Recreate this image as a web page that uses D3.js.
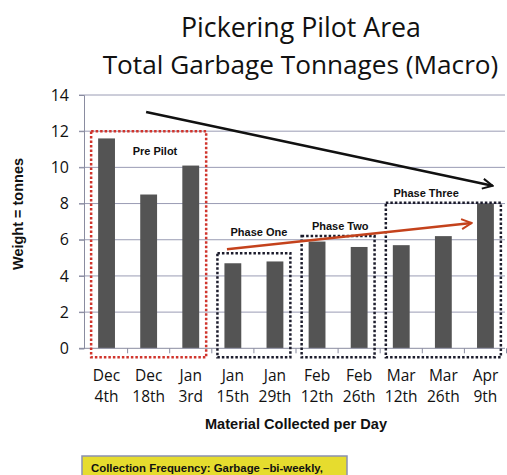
<!DOCTYPE html>
<html>
<head>
<meta charset="utf-8">
<script src="https://cdn.jsdelivr.net/npm/d3@7"></script>
<style>
  body { margin: 0; background: #fff; }
  svg { display: block; }
  text { font-family: "Open Sans", sans-serif; fill: #111; }
  .bold { font-family: "Liberation Sans", Arial, sans-serif; font-weight: bold; }
</style>
</head>
<body>
<div id="chart"></div>
<script>
// chart data
var dates = ["Dec 4th", "Dec 18th", "Jan 3rd", "Jan 15th", "Jan 29th",
             "Feb 12th", "Feb 26th", "Mar 12th", "Mar 26th", "Apr 9th"];
var tonnes = [11.6, 8.5, 10.1, 4.7, 4.8, 5.9, 5.6, 5.7, 6.2, 8.0];
var yTicks = [0, 2, 4, 6, 8, 10, 12, 14];

// phase boxes: first/last bar index, top of box in tonnes
var phases = [
  { name: "Pre Pilot",   first: 0, last: 2, top: 12.0, color: "#d0342c", lx: 1.15, ly: 10.7 },
  { name: "Phase One",   first: 3, last: 4, top: 5.25, color: "#1c1c2c", lx: 3.62, ly: 6.2 },
  { name: "Phase Two",   first: 5, last: 6, top: 6.2,  color: "#1c1c2c", lx: 5.55, ly: 6.55 },
  { name: "Phase Three", first: 7, last: 9, top: 8.05, color: "#1c1c2c", lx: 7.59, ly: 8.37 }
];

// trend arrows (bar index, tonnes)
var arrows = [
  { x1: 0.94, y1: 13.06, x2: 9.17, y2: 8.98, color: "#111111" },
  { x1: 2.86, y1: 5.48,  x2: 8.67, y2: 6.92, color: "#c4421c" }
];

var width = 507, height = 475;

var svg = d3.select("#chart").append("svg")
    .attr("width", width)
    .attr("height", height);

// scales
var x = d3.scaleBand()
    .domain(dates)
    .range([85.5, 506.5])
    .paddingInner(0.6)
    .paddingOuter(0.3);
var xIdx = d3.scaleLinear()
    .domain([-0.5, dates.length - 0.5])
    .range(x.range());
var y = d3.scaleLinear()
    .domain([0, 14])
    .range([348.3, 95]);

// title - font size fitted so each line has the reference width
function fitText(sel, w) {
  var len = sel.node().getComputedTextLength();
  sel.attr("font-size", 24 * w / len);
}
var title = svg.append("g").attr("text-anchor", "middle");
title.append("text")
    .attr("x", 301).attr("y", 36.5)
    .attr("font-size", 24)
    .text("Pickering Pilot Area")
    .call(fitText, 240);
title.append("text")
    .attr("x", 300.5).attr("y", 74)
    .attr("font-size", 24)
    .text("Total Garbage Tonnages (Macro)")
    .call(fitText, 396);

// gridlines
svg.append("g").selectAll("line")
    .data(yTicks.filter(function (d) { return d > 0; }))
    .enter().append("line")
    .attr("x1", 79).attr("x2", 505)
    .attr("y1", function (d) { return y(d); })
    .attr("y2", function (d) { return y(d); })
    .attr("stroke", "#9a9cb4")
    .attr("stroke-width", 1);

// y axis
var yAxis = svg.append("g")
    .attr("transform", "translate(84,0)")
    .call(d3.axisLeft(y).tickValues(yTicks).tickSize(5).tickPadding(10));
yAxis.select(".domain").attr("stroke", "#8a8ca0");
yAxis.selectAll(".tick line").attr("stroke", "#8a8ca0");
yAxis.selectAll(".tick text")
    .attr("font-size", 16)
    .attr("font-family", "Open Sans, sans-serif")
    .attr("fill", "#111");

// bars
svg.append("g").selectAll("rect")
    .data(tonnes)
    .enter().append("rect")
    .attr("x", function (d, i) { return x(dates[i]); })
    .attr("width", x.bandwidth())
    .attr("y", function (d) { return y(d); })
    .attr("height", function (d) { return y(0) - y(d); })
    .attr("fill", "#545454");

// x axis: line with ticks at band edges
var xAxisG = svg.append("g");
xAxisG.append("line")
    .attr("x1", 79).attr("x2", 505)
    .attr("y1", y(0)).attr("y2", y(0))
    .attr("stroke", "#8a8ca0");
xAxisG.selectAll(".xt")
    .data(d3.range(1, dates.length + 1))
    .enter().append("line")
    .attr("x1", function (i) { return xIdx(i - 0.5); })
    .attr("x2", function (i) { return xIdx(i - 0.5); })
    .attr("y1", y(0)).attr("y2", y(0) + 5)
    .attr("stroke", "#8a8ca0");

// x labels (two lines)
var xl = svg.append("g").selectAll("text")
    .data(dates)
    .enter().append("text")
    .attr("text-anchor", "middle")
    .attr("font-size", 15.5)
    .attr("x", function (d) { return x(d) + x.bandwidth() / 2; })
    .attr("y", 381);
xl.append("tspan").text(function (d) { return d.split(" ")[0]; });
xl.append("tspan")
    .attr("x", function (d) { return x(d) + x.bandwidth() / 2; })
    .attr("dy", 21)
    .text(function (d) { return d.split(" ")[1]; });

// axis titles
svg.append("text")
    .attr("class", "bold")
    .attr("text-anchor", "middle")
    .attr("transform", "translate(23,214) rotate(-90)")
    .attr("font-size", 14)
    .attr("textLength", 112).attr("lengthAdjust", "spacingAndGlyphs")
    .text("Weight = tonnes");
svg.append("text")
    .attr("class", "bold")
    .attr("text-anchor", "middle")
    .attr("x", 296).attr("y", 429)
    .attr("font-size", 14)
    .attr("textLength", 182).attr("lengthAdjust", "spacingAndGlyphs")
    .text("Material Collected per Day");

// phase boxes
var pad = 7;
var pg = svg.append("g").selectAll("g")
    .data(phases)
    .enter().append("g");
pg.append("rect")
    .attr("x", function (d) { return x(dates[d.first]) - pad; })
    .attr("y", function (d) { return y(d.top); })
    .attr("width", function (d) { return x(dates[d.last]) + x.bandwidth() + pad - (x(dates[d.first]) - pad); })
    .attr("height", function (d) { return y(-0.5) - y(d.top); })
    .attr("fill", "none")
    .attr("stroke", function (d) { return d.color; })
    .attr("stroke-width", 2.5)
    .attr("stroke-dasharray", "2.5,2");
pg.append("text")
    .attr("class", "bold")
    .attr("text-anchor", "middle")
    .attr("font-size", 11)
    .attr("x", function (d) { return xIdx(d.lx); })
    .attr("y", function (d) { return y(d.ly); })
    .text(function (d) { return d.name; });

// arrows
var defs = svg.append("defs");
arrows.forEach(function (a, i) {
  defs.append("marker")
      .attr("id", "arr" + i)
      .attr("viewBox", "0 0 10 10")
      .attr("refX", 9).attr("refY", 5)
      .attr("markerWidth", 5).attr("markerHeight", 5)
      .attr("orient", "auto")
      .append("path")
      .attr("d", "M1,1 L9,5 L1,9")
      .attr("fill", "none")
      .attr("stroke", a.color)
      .attr("stroke-width", 1.6);
});
svg.append("g").selectAll("line")
    .data(arrows)
    .enter().append("line")
    .attr("x1", function (d) { return xIdx(d.x1); })
    .attr("y1", function (d) { return y(d.y1); })
    .attr("x2", function (d) { return xIdx(d.x2); })
    .attr("y2", function (d) { return y(d.y2); })
    .attr("stroke", function (d) { return d.color; })
    .attr("stroke-width", 2.5)
    .attr("marker-end", function (d, i) { return "url(#arr" + i + ")"; });

// note box at bottom
svg.append("rect")
    .attr("x", 82).attr("y", 456)
    .attr("width", 265).attr("height", 25)
    .attr("fill", "#e6dc2e")
    .attr("stroke", "#8a90b0")
    .attr("stroke-width", 1.5);
svg.append("text")
    .attr("class", "bold")
    .attr("x", 91).attr("y", 471.5)
    .attr("font-size", 10.5)
    .attr("textLength", 232).attr("lengthAdjust", "spacingAndGlyphs")
    .text("Collection Frequency: Garbage \u2013bi-weekly,");
</script>
</body>
</html>
